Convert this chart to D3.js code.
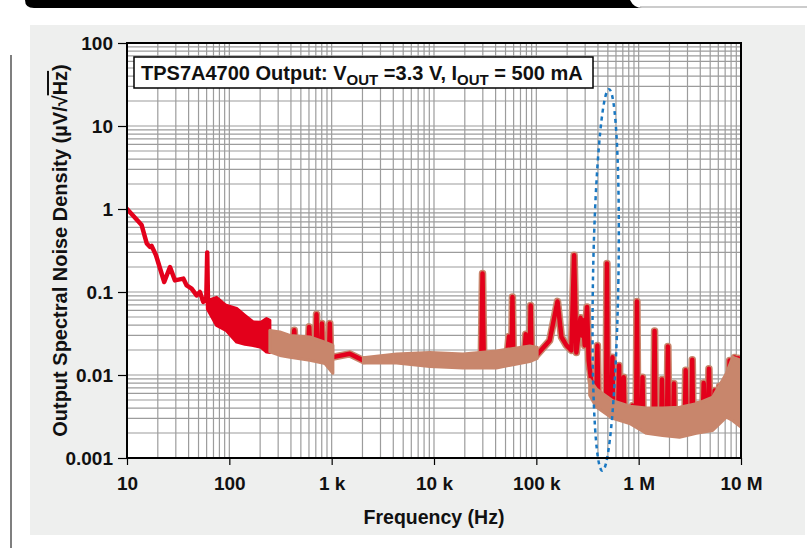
<!DOCTYPE html>
<html>
<head>
<meta charset="utf-8">
<script src="https://cdn.jsdelivr.net/npm/d3@7"></script>
<style>
  body { margin: 0; background: #ffffff; }
  svg text { font-family: "Liberation Sans", Arial, sans-serif; font-weight: bold; fill: #111; }
</style>
</head>
<body>
<svg id="chart" width="807" height="549"></svg>
<script>
// Axis ticks =============================================================
var xTicks = [10, 100, 1e3, 1e4, 1e5, 1e6, 1e7];
var xTickLabels = ["10", "100", "1 k", "10 k", "100 k", "1 M", "10 M"];
var yTicks = [0.001, 0.01, 0.1, 1, 10, 100];
var yTickLabels = ["0.001", "0.01", "0.1", "1", "10", "100"];

// Red trace (Hz, uV/rtHz)
var redFreq = [10, 13.9, 15.6, 16.8, 17.4, 19.2, 23.1, 26.3, 29.4, 35.5, 38.3, 42.8, 47.9, 51.6, 55.6, 59.5, 60.8, 62, 68, 75, 76, 87, 100, 118, 127, 150, 200, 249,
  300, 420, 431, 440, 590, 603, 615, 700, 711, 722, 790, 802, 815, 945, 960, 975, 1028, 1500, 2030, 3000, 5000, 10000, 20000,
  29000, 29800, 30600, 52000, 54000, 56000, 57500, 58400, 59500, 77000, 78800, 80500, 86500, 88000, 89500, 100000,
  135000, 161000, 176000, 197000, 220000, 234000, 246000, 270000, 277000, 286000, 297000, 313000, 325000, 345000, 372000,
  388000, 395000, 402000, 423000, 480000, 490000, 500000, 521000, 545000, 554000, 563000, 583000, 632000, 643000, 654000,
  678000, 702000, 714000, 726000, 787000, 860000, 874000, 888000, 945000, 962000, 980000, 1020000, 1070000, 1090000, 1110000,
  1350000, 1400000, 1430000, 1460000, 1530000, 1660000, 1690000, 1720000, 1890000, 1930000, 1970000, 2170000, 2210000, 2250000,
  2820000, 2880000, 2940000, 3270000, 3340000, 3410000, 3800000, 3880000, 3960000, 4230000, 4320000, 4410000,
  4760000, 4860000, 4960000, 5420000, 5530000, 5640000, 6060000, 6180000, 6300000, 7090000, 7230000, 7380000,
  7600000, 7740000, 7900000, 8500000, 8660000, 8830000, 9200000, 9370000, 9550000, 10000000];
var redNoise = [1.0, 0.64, 0.384, 0.349, 0.36, 0.277, 0.132, 0.20, 0.138, 0.145, 0.12, 0.11, 0.091, 0.10, 0.076, 0.08, 0.30, 0.063, 0.07, 0.076, 0.0435, 0.06, 0.044, 0.06, 0.026, 0.035, 0.03, 0.025,
  0.024, 0.022, 0.0345, 0.022, 0.021, 0.038, 0.021, 0.021, 0.054, 0.021, 0.021, 0.0416, 0.02, 0.02, 0.0416, 0.018, 0.0164, 0.018, 0.015, 0.0155, 0.0158, 0.016, 0.0165,
  0.017, 0.167, 0.017, 0.018, 0.029, 0.018, 0.019, 0.087, 0.019, 0.02, 0.031, 0.02, 0.02, 0.069, 0.021, 0.0172,
  0.0261, 0.077, 0.0286, 0.0227, 0.0198, 0.277, 0.0187, 0.049, 0.030, 0.0456, 0.0227, 0.066, 0.015, 0.0082, 0.0079,
  0.0075, 0.0227, 0.006, 0.0045, 0.004, 0.22, 0.004, 0.0037, 0.0037, 0.0164, 0.0036, 0.0036, 0.0035, 0.013, 0.0034,
  0.0034, 0.0033, 0.0094, 0.0033, 0.0033, 0.003, 0.0043, 0.003, 0.003, 0.077, 0.0028, 0.0028, 0.0027, 0.0094, 0.0026,
  0.0025, 0.0025, 0.034, 0.0025, 0.0025, 0.0024, 0.0088, 0.0024, 0.0023, 0.022, 0.0023, 0.0022, 0.0079, 0.0022,
  0.0022, 0.0114, 0.0022, 0.0023, 0.0153, 0.0023, 0.0026, 0.0044, 0.0027, 0.0028, 0.008, 0.0028,
  0.003, 0.0119, 0.003, 0.0034, 0.0065, 0.0035, 0.004, 0.0073, 0.0042, 0.006, 0.0084, 0.006,
  0.007, 0.015, 0.008, 0.008, 0.0163, 0.008, 0.008, 0.0159, 0.006, 0.0028];

// Noisy part of the red trace, drawn as an envelope
var redBandFreq = [62, 75, 92.7, 118, 142, 171, 204, 231, 249];
var redBandLow = [0.0601, 0.0396, 0.0345, 0.0249, 0.0234, 0.0227, 0.0215, 0.0189, 0.0187];
var redBandHigh = [0.0794, 0.0863, 0.0692, 0.0635, 0.0524, 0.0435, 0.0431, 0.0478, 0.0456];

// Tan trace envelopes (three stretches)
var tanFreqA = [249, 312, 391, 612, 859, 1028];
var tanLowA = [0.019, 0.0172, 0.0164, 0.015, 0.0137, 0.0105];
var tanHighA = [0.0345, 0.033, 0.030, 0.0287, 0.0249, 0.0228];

var tanFreqB = [2018, 4300, 9100, 19200, 40700, 86300, 103000];
var tanLowB = [0.0138, 0.0138, 0.0125, 0.012, 0.012, 0.0143, 0.0157];
var tanHighB = [0.0164, 0.0182, 0.0189, 0.0182, 0.0198, 0.0227, 0.0217];

var tanFreqC = [332e3, 386e3, 557e3, 817e3, 1.19e6, 1.71e6, 2.51e6, 3.66e6, 5.28e6, 7.19e6, 8.28e6, 1e7];
var tanLowC = [0.0057, 0.0041, 0.003, 0.0026, 0.00198, 0.00187, 0.00178, 0.00198, 0.00215, 0.0031, 0.00283, 0.00235];
var tanHighC = [0.0088, 0.0068, 0.0049, 0.0042, 0.0040, 0.0040, 0.0041, 0.0045, 0.0054, 0.0104, 0.0164, 0.015];

// Dotted ellipse round the 500 kHz spur: centre, left/right freq, top/bottom level
var ellipseFreq = [476e3, 360e3, 638e3];
var ellipseNoise = [0.14, 27.8, 0.0007];

var RED = "#e3001b", TAN = "#c8866c";

// Layout ==================================================================
var svg = d3.select("#chart");
var pLeft = 127, pRight = 741, pTop = 43, pBottom = 458;

var x = d3.scaleLog().domain([10, 1e7]).range([pLeft, pRight]);
var y = d3.scaleLog().domain([0.001, 100]).range([pBottom, pTop]);

// header bar and grey panel
svg.append("path")
  .attr("d", "M25,0 H630 Q634,8 642,8 H34 Q25,8 25,0 Z")
  .attr("fill", "#000");
svg.append("line").attr("x1", 640).attr("x2", 807).attr("y1", 7).attr("y2", 7)
  .attr("stroke", "#999").attr("stroke-width", 1);
svg.append("rect").attr("x", 30).attr("y", 25).attr("width", 775).attr("height", 510)
  .attr("fill", "#eeefee");
svg.append("line").attr("x1", 11).attr("x2", 11).attr("y1", 55).attr("y2", 548)
  .attr("stroke", "#555").attr("stroke-width", 1.5);

svg.append("rect").attr("x", pLeft).attr("y", pTop).attr("width", pRight - pLeft).attr("height", pBottom - pTop)
  .attr("fill", "#fff");

// grid lines, 1..9 in every decade
var xGrid = [], yGrid = [];
for (var d = 1; d < 7; d++) for (var m = 1; m < 10; m++) xGrid.push(m * Math.pow(10, d));
for (var e = -3; e < 2; e++) for (var n = 1; n < 10; n++) yGrid.push(n * Math.pow(10, e));

svg.append("g").selectAll("line").data(xGrid).enter().append("line")
  .attr("x1", function(d) { return x(d); }).attr("x2", function(d) { return x(d); })
  .attr("y1", pTop).attr("y2", pBottom)
  .attr("stroke", "#9c9c9c").attr("stroke-width", 1.2);
svg.append("g").selectAll("line").data(yGrid).enter().append("line")
  .attr("x1", pLeft).attr("x2", pRight)
  .attr("y1", function(d) { return y(d); }).attr("y2", function(d) { return y(d); })
  .attr("stroke", "#9c9c9c").attr("stroke-width", 1.2);

// clip for the traces
svg.append("clipPath").attr("id", "plotClip").append("rect")
  .attr("x", pLeft).attr("y", pTop).attr("width", pRight - pLeft).attr("height", pBottom - pTop);
var plot = svg.append("g").attr("clip-path", "url(#plotClip)");

var redPts = redFreq.map(function(f, i) { return [f, redNoise[i]]; });
var line = d3.line().x(function(d) { return x(d[0]); }).y(function(d) { return y(d[1]); });

// tan halo under the red trace above 250 Hz
plot.append("path").datum(redPts.filter(function(d) { return d[0] >= 249; }))
  .attr("d", line).attr("fill", "none").attr("stroke", TAN)
  .attr("stroke-width", 7.5).attr("stroke-linejoin", "round");
plot.append("path").datum(redPts)
  .attr("d", line).attr("fill", "none").attr("stroke", RED)
  .attr("stroke-width", 4.5).attr("stroke-linejoin", "round").attr("stroke-linecap", "round");

function band(freq, lo, hi) {
  return freq.map(function(f, i) { return { f: f, lo: lo[i], hi: hi[i] }; });
}
var area = d3.area()
  .x(function(d) { return x(d.f); })
  .y0(function(d) { return y(d.lo); })
  .y1(function(d) { return y(d.hi); });

plot.append("path").datum(band(redBandFreq, redBandLow, redBandHigh))
  .attr("d", area).attr("fill", RED).attr("stroke", RED).attr("stroke-width", 3).attr("stroke-linejoin", "round");

[[tanFreqA, tanLowA, tanHighA, 3], [tanFreqB, tanLowB, tanHighB, 2], [tanFreqC, tanLowC, tanHighC, 3]].forEach(function(s) {
  plot.append("path").datum(band(s[0], s[1], s[2]))
    .attr("d", area).attr("fill", TAN).attr("stroke", TAN)
    .attr("stroke-width", s[3]).attr("stroke-linejoin", "round");
});

// dotted ellipse
var ecx = x(ellipseFreq[0]), ecy = y(ellipseNoise[0]);
svg.append("ellipse")
  .attr("cx", ecx).attr("cy", (y(ellipseNoise[1]) + y(ellipseNoise[2])) / 2)
  .attr("rx", (x(ellipseFreq[2]) - x(ellipseFreq[1])) / 2)
  .attr("ry", (y(ellipseNoise[2]) - y(ellipseNoise[1])) / 2)
  .attr("transform", "rotate(1," + ecx + "," + ecy + ")")
  .attr("fill", "none").attr("stroke", "#1a78c2").attr("stroke-width", 2.5)
  .attr("stroke-dasharray", "4,4");

// plot border
svg.append("rect").attr("x", pLeft).attr("y", pTop).attr("width", pRight - pLeft).attr("height", pBottom - pTop)
  .attr("fill", "none").attr("stroke", "#000").attr("stroke-width", 2);

// axes
var xAxis = d3.axisBottom(x).tickValues(xTicks).tickSize(7)
  .tickFormat(function(d, i) { return xTickLabels[i]; });
var gx = svg.append("g").attr("transform", "translate(0," + pBottom + ")").call(xAxis);
gx.select(".domain").remove();
gx.selectAll("line").attr("stroke", "#000").attr("stroke-width", 1.2);
gx.selectAll("text").attr("y", 19).attr("dy", "0.71em").style("font-size", "19px");

var yAxis = d3.axisLeft(y).tickValues(yTicks).tickSize(9)
  .tickFormat(function(d, i) { return yTickLabels[i]; });
var gy = svg.append("g").attr("transform", "translate(" + pLeft + ",0)").call(yAxis);
gy.select(".domain").remove();
gy.selectAll("line").attr("stroke", "#000").attr("stroke-width", 1.2);
gy.selectAll("text").attr("x", -14).style("font-size", "19px");

// titles
svg.append("text").attr("x", (pLeft + pRight) / 2).attr("y", 524)
  .attr("text-anchor", "middle").style("font-size", "19.5px").text("Frequency (Hz)");

var yt = svg.append("text").attr("transform", "translate(67," + ((pTop + pBottom) / 2) + ") rotate(-90)")
  .attr("text-anchor", "middle").style("font-size", "20px");
yt.append("tspan").text("Output Spectral Noise Density (µV/√");
yt.append("tspan").style("text-decoration", "overline").text("Hz");
yt.append("tspan").text(")");

// annotation box
svg.append("rect").attr("x", 134).attr("y", 57).attr("width", 459).attr("height", 31)
  .attr("fill", "#fff").attr("stroke", "#000").attr("stroke-width", 1.5);
var note = svg.append("text").attr("x", 141).attr("y", 80).style("font-size", "20px");
note.append("tspan").text("TPS7A4700 Output: V");
note.append("tspan").attr("dy", 5).style("font-size", "15px").text("OUT");
note.append("tspan").attr("dy", -5).text(" =3.3 V, I");
note.append("tspan").attr("dy", 5).style("font-size", "15px").text("OUT");
note.append("tspan").attr("dy", -5).text(" = 500 mA");
</script>
</body>
</html>
